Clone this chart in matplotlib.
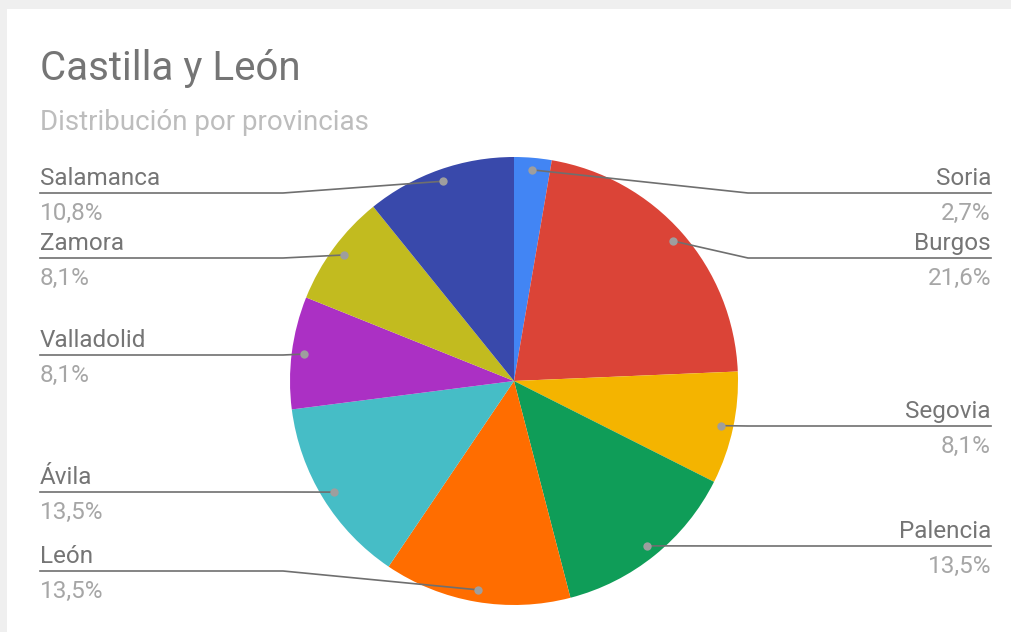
import numpy as np
import matplotlib
matplotlib.use('Agg')
import matplotlib.pyplot as plt
from matplotlib.patches import Rectangle

# Data (clockwise from the top)
provinces = ['Soria', 'Burgos', 'Segovia', 'Palencia', 'León',
             'Ávila', 'Valladolid', 'Zamora', 'Salamanca']
shares = [2.7, 21.6, 8.1, 13.5, 13.5, 13.5, 8.1, 8.1, 10.8]
colors = ['#4285F4', '#DB4437', '#F4B400', '#0F9D58', '#FF6D00',
          '#46BDC6', '#AB30C4', '#C2BB1F', '#3949AB']

# label line heights (pixels from top), layout only
label_line_y = [193, 258, 426, 546, 571, 492, 355, 258, 193]

W, H = 1011, 632
plt.rcParams['font.family'] = ['Roboto', 'DejaVu Sans']

fig = plt.figure(figsize=(W / 100, H / 100), dpi=100)
fig.patch.set_facecolor('#efefef')
ax = fig.add_axes([0, 0, 1, 1])
ax.add_patch(Rectangle((7, 0), W, H - 9, fc='white', ec='none', zorder=0))

cx, cy, R = 514, H - 381, 224
wedges, _ = ax.pie(shares, colors=colors, startangle=90, counterclock=False,
                   center=(cx, cy), radius=R, wedgeprops=dict(linewidth=0))
ax.set_xlim(0, W)
ax.set_ylim(0, H)
ax.set_aspect('auto')
ax.axis('off')

# title
fig.text(40 / W, (H - 80) / H, 'Castilla y León', fontsize=29, color='#757575',
         va='baseline', ha='left')
fig.text(40 / W, (H - 130) / H, 'Distribución por provincias', fontsize=20,
         color='#BDBDBD', va='baseline', ha='left')

total = sum(shares)
for w, name, v, ly in zip(wedges, provinces, shares, label_line_y):
    mid = np.deg2rad((w.theta1 + w.theta2) / 2)
    dx = cx + 0.946 * R * np.cos(mid)
    dy = cy + 0.946 * R * np.sin(mid)
    y = H - ly
    right = dx > cx
    if right:
        xs = [991, 748, dx]
        tx, ha = 991, 'right'
    else:
        xs = [40, 283, dx]
        tx, ha = 40, 'left'
    ax.plot(xs, [y, y, dy], color='#6f6f6f', lw=1.2, zorder=3,
            solid_joinstyle='round')
    ax.plot(dx, dy, 'o', color='#9E9E9E', ms=6, mec='none', zorder=4)
    pct = f'{v / total * 100:.1f}'.replace('.', ',') + '%'
    ax.text(tx, y + 8, name, fontsize=17.5, color='#757575', ha=ha, va='baseline')
    ax.text(tx, y - 27, pct, fontsize=17.5, color='#A6A6A6', ha=ha, va='baseline')

fig.savefig('out.png', dpi=100, facecolor=fig.get_facecolor())
